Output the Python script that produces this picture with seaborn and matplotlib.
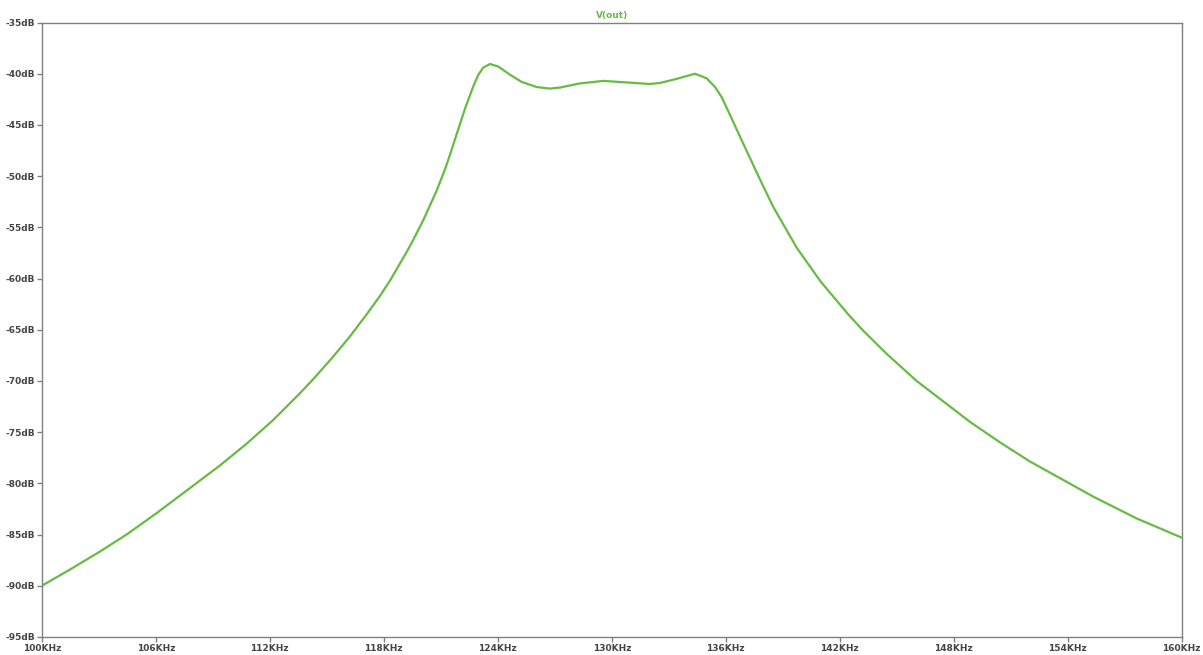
import matplotlib
matplotlib.use("Agg")
import matplotlib.pyplot as plt
import pandas as pd
import seaborn as sns

# V(out) frequency response
freq_khz = [100.0, 101.5, 103.07, 104.5, 106.05, 107.7, 109.38, 110.8, 112.19,
            113.59, 114.3, 115.35, 116.2, 117.1, 117.8, 118.33, 119.21, 119.56,
            120.08, 120.79, 121.23, 121.49, 121.75, 122.28, 122.72, 122.98,
            123.24, 123.59, 124.03, 124.65, 125.26, 126.05, 126.75, 127.28,
            128.3, 129.56, 130.8, 132.0, 132.54, 133.42, 134.38, 135.0, 135.44,
            135.79, 136.32, 136.84, 137.37, 137.72, 138.5, 139.74, 141.0,
            142.45, 143.24, 144.5, 146.05, 148.86, 150.4, 152.0, 155.35, 157.6,
            160.0]
vout_db = [-90.0, -88.4, -86.65, -84.95, -82.9, -80.6, -78.25, -76.1, -73.8,
           -71.2, -69.8, -67.6, -65.7, -63.5, -61.7, -60.2, -57.4, -56.2,
           -54.3, -51.4, -49.3, -47.9, -46.4, -43.4, -41.2, -40.1,
           -39.4, -39.05, -39.3, -40.1, -40.8, -41.3, -41.45, -41.35,
           -40.95, -40.7, -40.85, -41.0, -40.9, -40.5, -40.0, -40.45, -41.3,
           -42.3, -44.4, -46.5, -48.6, -50.0, -53.0, -57.0, -60.3,
           -63.5, -65.1, -67.4, -70.0, -74.0, -75.95, -77.85, -81.3, -83.4,
           -85.3]

x_ticks = [100, 106, 112, 118, 124, 130, 136, 142, 148, 154, 160]
x_labels = [f"{t}KHz" for t in x_ticks]
y_ticks = [-95, -90, -85, -80, -75, -70, -65, -60, -55, -50, -45, -40, -35]
y_labels = [f"{t}dB" for t in y_ticks]

sns.set_theme(style="white")
plt.rcParams["font.family"] = ["DejaVu Sans"]

df = pd.DataFrame({"freq": freq_khz, "vout": vout_db})

fig = plt.figure(figsize=(12.03, 6.55), dpi=100)
ax = fig.add_axes([0.0347, 0.0275, 0.9476, 0.9381])

sns.lineplot(data=df, x="freq", y="vout", ax=ax, color="#66bb44", linewidth=1.6)

ax.set_xlim(100, 160)
ax.set_ylim(-95, -35)
ax.set_xticks(x_ticks)
ax.set_xticklabels(x_labels)
ax.set_yticks(y_ticks)
ax.set_yticklabels(y_labels)
ax.set_xlabel("")
ax.set_ylabel("")

for s in ax.spines.values():
    s.set_color("#808080")
    s.set_linewidth(1.0)
    s.set_visible(True)

ax.tick_params(axis="both", direction="out", length=3.5, width=1, color="#808080",
               labelsize=6.5, labelcolor="#444444", pad=1.5, bottom=True, left=True)
for lbl in ax.get_xticklabels() + ax.get_yticklabels():
    lbl.set_fontweight("bold")

ax.set_title("V(out)", color="#66bb44", fontsize=6.5, fontweight="bold", pad=3)

fig.savefig("out.png", dpi=100)
